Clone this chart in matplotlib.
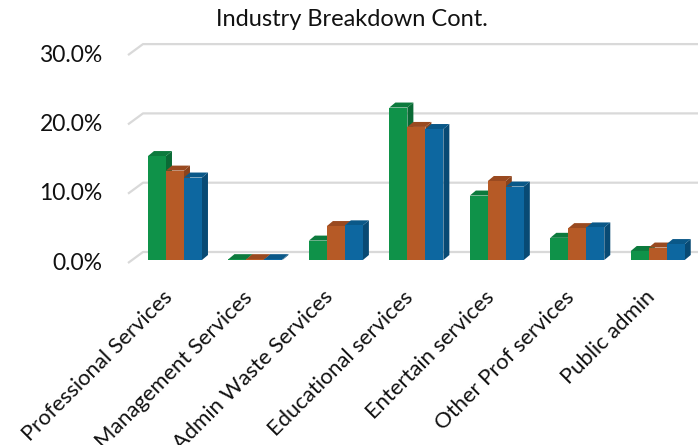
import matplotlib
matplotlib.use("Agg")
import matplotlib.pyplot as plt
from matplotlib.patches import Polygon, Rectangle
from matplotlib.transforms import ScaledTranslation

categories = ["Professional Services", "Management Services", "Admin Waste Services",
              "Educational services", "Entertain services", "Other Prof services", "Public admin"]
series_a = [0.150, 0.0012, 0.028, 0.220, 0.093, 0.032, 0.013]
series_b = [0.129, 0.0012, 0.049, 0.192, 0.114, 0.046, 0.018]
series_c = [0.119, 0.0012, 0.050, 0.189, 0.106, 0.047, 0.023]
yticks = [0.0, 0.10, 0.20, 0.30]
ytick_labels = ["0.0%", "10.0%", "20.0%", "30.0%"]
title = "Industry Breakdown Cont."

front_colors = ["#0f9249", "#b65a26", "#0d67a0"]
side_colors = ["#0a6a35", "#8b431c", "#084a74"]
top_colors = ["#0c7a3d", "#9a4a20", "#0a5888"]

plt.rcParams['font.family'] = ['Lato', 'DejaVu Sans']

W, H = 698, 445
fig = plt.figure(figsize=(W / 100, H / 100), dpi=100)
left_px = 175 - 0.5 * 80.5
ax = fig.add_axes([left_px / W, (H - 260) / H, (W - left_px) / W, 0.30 * 693 / H])
ax.set_xlim(-0.5, 6.5)
ax.set_ylim(0, 0.30)
ax.axis('off')

px_x = 1 / 80.5
px_y = 1 / 693.0

for v in yticks:
    xs = [(128 - 175) * px_x, (143 - 175) * px_x, 7.0]
    ys = [v - 3 * px_y, v + 8 * px_y, v + 8 * px_y]
    ax.plot(xs, ys, color="#d9d9d9", lw=1.6, clip_on=False, zorder=1, solid_capstyle='butt')

for v, lab in zip(yticks, ytick_labels):
    ax.text(-0.5, v, lab, transform=ax.transData + ScaledTranslation(-32 / 100, -3 / 100, fig.dpi_scale_trans),
            ha='right', va='center', fontsize=16.5, color='#111111')

bw = 18 / 80.5
dx = 6 * px_x
dy = 5 * px_y
z = 2
for i in range(len(categories)):
    for j, ser in enumerate([series_a, series_b, series_c]):
        x0 = i + (j - 1.5) * bw
        x1 = x0 + bw
        h = ser[i]
        side = Polygon([[x1, 0], [x1 + dx, dy], [x1 + dx, h + dy], [x1, h]], closed=True,
                       facecolor=side_colors[j], edgecolor='none', zorder=z)
        top = Polygon([[x0, h], [x0 + dx, h + dy], [x1 + dx, h + dy], [x1, h]], closed=True,
                      facecolor=top_colors[j], edgecolor='none', zorder=z)
        front = Rectangle((x0, 0), bw, h, facecolor=front_colors[j], edgecolor='none', zorder=z + 0.5)
        ax.add_patch(side)
        ax.add_patch(top)
        ax.add_patch(front)
        z += 1

for i, lab in enumerate(categories):
    ax.text(i, 0, lab, transform=ax.transData + ScaledTranslation(-6 / 100, -34 / 100, fig.dpi_scale_trans),
            rotation=45, ha='right', va='center', rotation_mode='anchor', fontsize=15.8, color='#111111')

fig.text(352 / W, 1 - 19 / H, title, ha='center', va='center', fontsize=17, color='#111111')

fig.savefig("out.png", dpi=100)
